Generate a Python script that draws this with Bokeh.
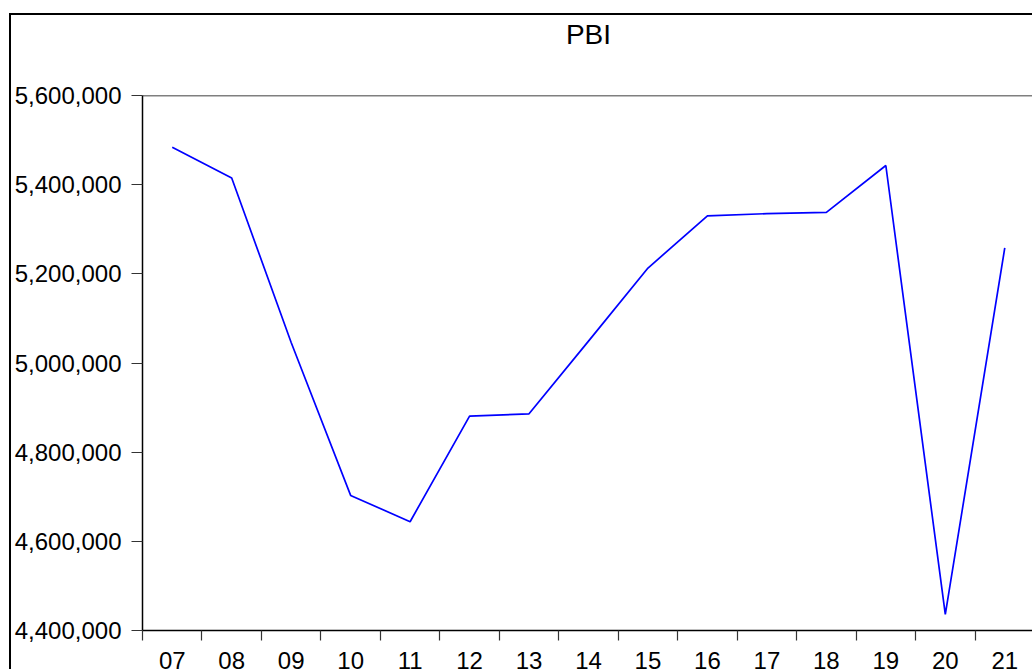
from bokeh.plotting import figure
from bokeh.models import Range1d, FixedTicker, NumeralTickFormatter, LinearAxis, Span
from bokeh.embed import file_html
from bokeh.resources import INLINE

years = ["07", "08", "09", "10", "11", "12", "13", "14", "15", "16", "17", "18", "19", "20", "21"]
pbi = [5484000, 5415000, 5046000, 4703000, 4644000, 4881000, 4886000, 5049000,
       5213000, 5330000, 5335000, 5338000, 5443000, 4436000, 5258000]
y_ticks = [4400000, 4600000, 4800000, 5000000, 5200000, 5400000, 5600000]
title_text = "PBI"

FONT = "Liberation Sans"

xs = [i + 0.5 for i in range(len(years))]

p = figure(width=1023, height=656, output_backend="svg", toolbar_location=None,
           x_range=Range1d(0, len(years)), y_range=Range1d(y_ticks[0], y_ticks[-1]),
           x_axis_type=None, y_axis_type=None,
           min_border_left=131, min_border_top=78, min_border_bottom=38, min_border_right=0)
p.margin = (13, 0, 0, 9)
p.styles = {"border-top": "2px solid black", "border-left": "2px solid black"}
p.grid.visible = False
p.outline_line_color = None
p.background_fill_color = "white"
p.border_fill_color = "white"

# title drawn as the label of a tickless top axis, centred over the frame
top = LinearAxis(ticker=FixedTicker(ticks=[], minor_ticks=[]), axis_label=title_text)
top.major_tick_out = 0
top.major_tick_in = 0
top.minor_tick_out = 0
top.minor_tick_in = 0
top.major_label_standoff = 0
top.axis_line_color = None
top.axis_label_standoff = 46
top.axis_label_text_font = FONT
top.axis_label_text_font_size = "28px"
top.axis_label_text_font_style = "normal"
top.axis_label_text_color = "black"
p.add_layout(top, "above")

yaxis = LinearAxis(ticker=FixedTicker(ticks=y_ticks, minor_ticks=[]),
                   formatter=NumeralTickFormatter(format="0,0"))
yaxis.major_tick_out = 11
yaxis.major_tick_in = 0
yaxis.minor_tick_out = 0
yaxis.minor_tick_in = 0
yaxis.major_label_standoff = 10
yaxis.major_label_text_font = FONT
yaxis.major_label_text_font_size = "24px"
yaxis.major_label_text_color = "black"
yaxis.axis_line_color = "black"
yaxis.axis_line_width = 1.5
yaxis.major_tick_line_color = "#333333"
yaxis.major_tick_line_width = 1.2
p.add_layout(yaxis, "left")

xaxis = LinearAxis(ticker=FixedTicker(ticks=xs, minor_ticks=list(range(len(years) + 1))))
xaxis.major_label_overrides = {x: y for x, y in zip(xs, years)}
xaxis.major_tick_out = 0
xaxis.major_tick_in = 0
xaxis.minor_tick_out = 10
xaxis.minor_tick_in = 0
xaxis.minor_tick_line_color = "#333333"
xaxis.minor_tick_line_width = 1.2
xaxis.major_label_standoff = 11
xaxis.major_label_text_font = FONT
xaxis.major_label_text_font_size = "24px"
xaxis.major_label_text_color = "black"
xaxis.axis_line_color = "black"
xaxis.axis_line_width = 1.5
p.add_layout(xaxis, "below")

p.add_layout(Span(location=y_ticks[-1], dimension="width", line_color="black", line_width=1.5))

p.line(xs, pbi, line_color="#0000FF", line_width=1.7)

open("out.html", "w").write(file_html(p, INLINE))
